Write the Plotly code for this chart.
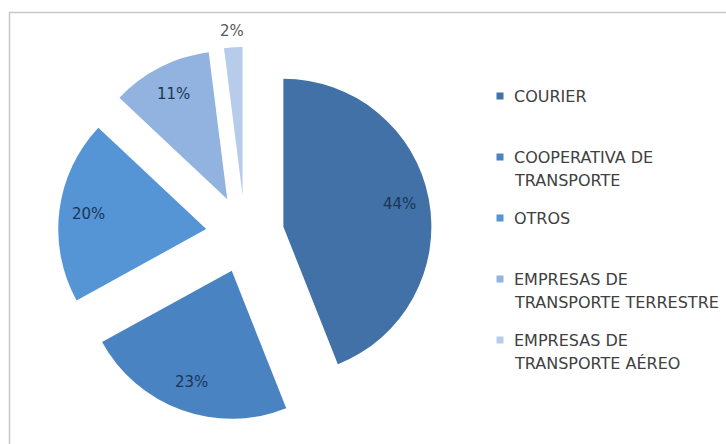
import math
import plotly.graph_objects as go

# Shipment channel shares (percent)
categories = [
    "COURIER",
    "COOPERATIVA DE<br>TRANSPORTE",
    "OTROS",
    "EMPRESAS DE<br>TRANSPORTE TERRESTRE",
    "EMPRESAS DE<br>TRANSPORTE AÉREO",
]
shares = [44, 23, 20, 11, 2]
slice_colors = ["#4171A6", "#4A83C2", "#5595D6", "#92B3DF", "#B7CCEA"]

# Figure geometry (pixels)
W, H = 726, 444
CX, CY = 245, 234          # pie centre
RADIUS = 148               # slice radius
PULL = 0.264               # explosion, as a fraction of the radius

half_box = RADIUS * (1 + PULL)
domain_x = [(CX - half_box) / W, (CX + half_box) / W]
domain_y = [1 - (CY + half_box) / H, 1 - (CY - half_box) / H]

fig = go.Figure(
    go.Pie(
        labels=[c.replace("<br>", " ") for c in categories],
        values=shares,
        marker=dict(colors=slice_colors, line=dict(width=0)),
        pull=[PULL] * len(shares),
        sort=False,
        direction="clockwise",
        rotation=0,
        textinfo="none",
        domain=dict(x=domain_x, y=domain_y),
        showlegend=False,
    )
)


def px_to_paper(x, y):
    return x / W, 1 - y / H


# Percentage labels, placed along each slice's bisector
total = sum(shares)
annotations = []
start = 0.0
for i, v in enumerate(shares):
    mid = (start + v / 2) / total * 2 * math.pi
    start += v
    ux, uy = math.sin(mid), -math.cos(mid)
    apex_x = CX + PULL * RADIUS * ux
    apex_y = CY + PULL * RADIUS * uy
    pct = f"{round(v / total * 100)}%"
    if v / total >= 0.05:
        dist = 0.8 * RADIUS
        color = "#1B3556"
    else:
        dist = RADIUS + 16
        color = "#595959"
    px, py = px_to_paper(apex_x + dist * ux, apex_y + dist * uy)
    annotations.append(dict(
        x=px, y=py, xref="paper", yref="paper", text=pct, showarrow=False,
        xanchor="center", yanchor="middle",
        font=dict(family="DejaVu Sans", size=15, color=color),
    ))

# Legend: coloured squares with stacked label lines
LEG_MARK_X = 500
LEG_TEXT_X = 512
LEG_Y0 = 96
LEG_STEP = 61
LINE_STEP = 23.5
MARK = 7
shapes = []
for i, (name, col) in enumerate(zip(categories, slice_colors)):
    y_first = LEG_Y0 + i * LEG_STEP
    shapes.append(dict(
        type="rect", xref="paper", yref="paper",
        x0=(LEG_MARK_X - MARK / 2) / W, x1=(LEG_MARK_X + MARK / 2) / W,
        y0=1 - (y_first + MARK / 2) / H, y1=1 - (y_first - MARK / 2) / H,
        fillcolor=col, line=dict(width=0),
    ))
    for j, line in enumerate(name.split("<br>")):
        lx, ly = px_to_paper(LEG_TEXT_X, y_first + j * LINE_STEP)
        annotations.append(dict(
            x=lx, y=ly, xref="paper", yref="paper", text=line, showarrow=False,
            xanchor="left", yanchor="middle",
            font=dict(family="DejaVu Sans", size=16, color="#404040"),
        ))

# Chart-area frame (top and left edges visible)
shapes.append(dict(
    type="rect", xref="paper", yref="paper",
    x0=9.5 / W, x1=1.5, y0=-0.5, y1=1 - 12.5 / H,
    line=dict(color="#C8C8C8", width=1.5), fillcolor="rgba(0,0,0,0)",
))

fig.update_layout(
    width=W, height=H,
    margin=dict(l=0, r=0, t=0, b=0),
    paper_bgcolor="white", plot_bgcolor="white",
    annotations=annotations,
    shapes=shapes,
)

fig.write_html("out.html")
